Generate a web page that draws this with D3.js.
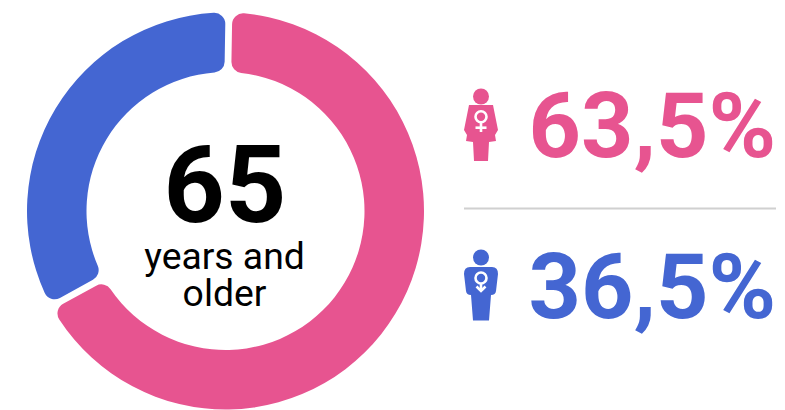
<!DOCTYPE html>
<html>
<head>
<meta charset="utf-8">
<script src="https://cdn.jsdelivr.net/npm/d3@7"></script>
<style>
html, body { margin: 0; padding: 0; background: #fff; }
svg { display: block; font-family: Roboto, sans-serif; }
</style>
</head>
<body>
<svg width="785" height="410"></svg>
<script>
var groups = ["female", "male"];
var shareLabels = ["63,5%", "36,5%"];
// ring sizes: the drawn arcs are not 63.5/36.5
var ringShares = [66.9, 33.1];
var centerLines = ["years and", "older"];
var colors = ["#e75490", "#4466d2"];

var svg = d3.select("svg");

var pie = d3.pie()
    .sort(null)
    .startAngle(0.017)
    .endAngle(2 * Math.PI + 0.017)
    .padAngle(0.028)
    .value(function(d) { return d; });
var arc = d3.arc().innerRadius(139).outerRadius(198.5).cornerRadius(11);

var donut = svg.append("g").attr("transform", "translate(225.5,211)");
donut.selectAll("path")
    .data(pie(ringShares))
    .enter()
    .append("path")
    .attr("d", arc)
    .attr("fill", function(d, i) { return colors[i]; });

donut.append("text")
    .attr("text-anchor", "middle")
    .attr("x", -0.5)
    .attr("y", 11)
    .attr("font-size", 107)
    .attr("font-weight", 700)
    .attr("fill", "#000")
    .text("65");

donut.selectAll(".sub")
    .data(centerLines)
    .enter()
    .append("text")
    .attr("class", "sub")
    .attr("text-anchor", "middle")
    .attr("x", -1)
    .attr("y", function(d, i) { return 58 + i * 37; })
    .attr("font-size", 37.3)
    .attr("fill", "#000")
    .text(function(d) { return d; });

// divider between the two figures
svg.append("line")
    .attr("x1", 464).attr("x2", 776)
    .attr("y1", 208.5).attr("y2", 208.5)
    .attr("stroke", "#d0d0d0")
    .attr("stroke-width", 2);

var rows = svg.selectAll(".row")
    .data(groups)
    .enter()
    .append("g")
    .attr("class", "row")
    .attr("transform", function(d, i) { return "translate(0," + (i * 161) + ")"; });

rows.append("text")
    .attr("x", 528.5)
    .attr("y", 157)
    .attr("font-size", 91.5)
    .attr("font-weight", 700)
    .attr("fill", function(d, i) { return colors[i]; })
    .text(function(d, i) { return shareLabels[i]; });

// person icons, origin is the top of the head
var bodies = {
    female: "M-12,16 L12,16 L17,41 L14,46 L15,52 L8,53 L7,72 L-7,72 L-8,53 L-15,52 L-14,46 L-17,41 Z",
    male: "M-11,17 Q-17,17 -17,24 L-15,41 Q-14.5,45 -10,45 L-8,70.5 L8,70.5 L10,45 Q14.5,45 15,41 L17,24 Q17,17 11,17 Z"
};

rows.each(function(d, i) {
    var icon = d3.select(this).append("g").attr("transform", "translate(481,89)");
    icon.append("circle").attr("cy", 7.5).attr("r", 8).attr("fill", colors[i]);
    icon.append("path").attr("d", bodies[d]).attr("fill", colors[i]);

    var sym = icon.append("g").attr("fill", "none").attr("stroke", "#fff").attr("stroke-width", 2.6);
    if (d === "female") {
        sym.append("circle").attr("cy", 27.7).attr("r", 5.5);
        sym.append("line").attr("y1", 33).attr("y2", 43);
        sym.append("line").attr("x1", -5.5).attr("x2", 5.5).attr("y1", 38.7).attr("y2", 38.7);
    } else {
        sym.append("circle").attr("cy", 28).attr("r", 5.5);
        sym.append("line").attr("y1", 33.5).attr("y2", 41);
        sym.append("path").attr("d", "M-4.5,36.5 L0,41 L4.5,36.5");
    }
});
</script>
</body>
</html>
